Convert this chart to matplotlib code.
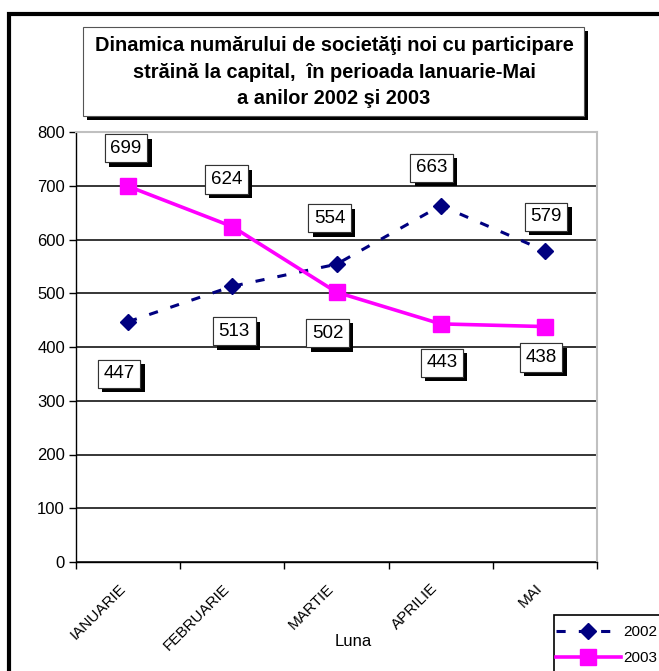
import matplotlib
matplotlib.use("Agg")
import matplotlib.pyplot as plt
from matplotlib.patches import Rectangle
from matplotlib import patheffects as pe

plt.rcParams['font.family'] = ['Liberation Sans', 'DejaVu Sans']

months = ["IANUARIE", "FEBRUARIE", "MARTIE", "APRILIE", "MAI"]
values_2002 = [447, 513, 554, 663, 579]
values_2003 = [699, 624, 502, 443, 438]
yticks = [0, 100, 200, 300, 400, 500, 600, 700, 800]
title = "Dinamica numărului de societăţi noi cu participare\nstrăină la capital,  în perioada Ianuarie-Mai\na anilor 2002 şi 2003"

# label offsets in pixels (layout only)
off_2002 = [(-9, -52), (2, -45), (-7, 46), (-9, 38), (1, 34)]
off_2003 = [(-2, 38), (-6, 47), (-9, -41), (1, -39), (-4, -31)]

W, H = 659, 671
fig = plt.figure(figsize=(W / 100, H / 100), dpi=100)
fig.patch.set_facecolor('white')

def fx(px):
    return px / W

def fy(py):
    return 1 - py / H

ax = fig.add_axes([fx(76), fy(562), fx(597) - fx(76), fy(132) - fy(562)])
x = list(range(len(months)))

ax.plot(x, values_2002, color='#000080', lw=2.2, linestyle=(0, (3, 4.3)),
        marker='D', markersize=8.5, label='2002', zorder=3)
ax.plot(x, values_2003, color='#FF00FF', lw=2.6, linestyle='-',
        marker='s', markersize=11, label='2003', zorder=4)

ax.set_xlim(-0.5, len(months) - 0.5)
ax.set_ylim(0, 800)
ax.set_yticks(yticks)
ax.set_yticklabels([str(v) for v in yticks], fontsize=12)
ax.yaxis.grid(True, color='black', lw=1.1)
ax.set_axisbelow(True)
ax.set_xticks(x)
ax.set_xticklabels(months, rotation=45, ha='right', fontsize=11)
ax.tick_params(axis='x', length=0, pad=14)
ax.set_xticks([i - 0.5 for i in range(len(months) + 1)], minor=True)
ax.tick_params(axis='x', which='minor', length=5, width=1, direction='out')
ax.tick_params(axis='y', length=5, width=1, direction='out', pad=3)
for s in ['top', 'right']:
    ax.spines[s].set_color('#C0C0C0')
    ax.spines[s].set_linewidth(1.5)
for s in ['left', 'bottom']:
    ax.spines[s].set_color('black')
    ax.spines[s].set_linewidth(1.0)
ax.set_xlabel('Luna', fontsize=12)
ax.xaxis.set_label_coords((353 - 76) / (597 - 76), -0.168)

def label(xi, v, off):
    t = ax.annotate(str(v), (xi, v), xytext=off, textcoords='offset pixels',
                    ha='center', va='center', fontsize=13.5, zorder=6,
                    bbox=dict(boxstyle='square,pad=0.3', fc='white', ec='#333333', lw=0.8))
    t.get_bbox_patch().set_path_effects([
        pe.withSimplePatchShadow(offset=(3.2, -3.2), shadow_rgbFace='black', alpha=1.0),
        pe.Normal()])

for xi, v, o in zip(x, values_2002, off_2002):
    label(xi, v, o)
for xi, v, o in zip(x, values_2003, off_2003):
    label(xi, v, o)

# title box with shadow
fig.add_artist(Rectangle((fx(87), fy(120)), fx(584) - fx(83), fy(27) - fy(116),
                         transform=fig.transFigure, fc='black', ec='none', zorder=1))
fig.add_artist(Rectangle((fx(83), fy(116)), fx(584) - fx(83), fy(27) - fy(116),
                         transform=fig.transFigure, fc='white', ec='#555555', lw=0.8, zorder=2))
fig.text(fx(334), fy(72), title, ha='center', va='center', fontsize=14.4,
         fontweight='bold', linespacing=1.5, zorder=3)

# outer frame
fig.add_artist(Rectangle((fx(9), fy(700)), fx(700), fy(14) - fy(700),
                         transform=fig.transFigure, fill=False, ec='black', lw=3, zorder=0))

# legend frame (extends past the figure edge as in the reference)
fig.add_artist(Rectangle((fx(554), fy(700)), fx(200), fy(615) - fy(700),
                         transform=fig.transFigure, fc='white', ec='black', lw=1.2, zorder=5))
leg = fig.legend(loc='upper left', bbox_to_anchor=(fx(556), fy(625)), fontsize=11,
                 handlelength=4.25, handletextpad=0.15, borderpad=0.0, labelspacing=0.8,
                 frameon=False, borderaxespad=0)
leg.set_zorder(6)

fig.savefig('out.png', dpi=100)
